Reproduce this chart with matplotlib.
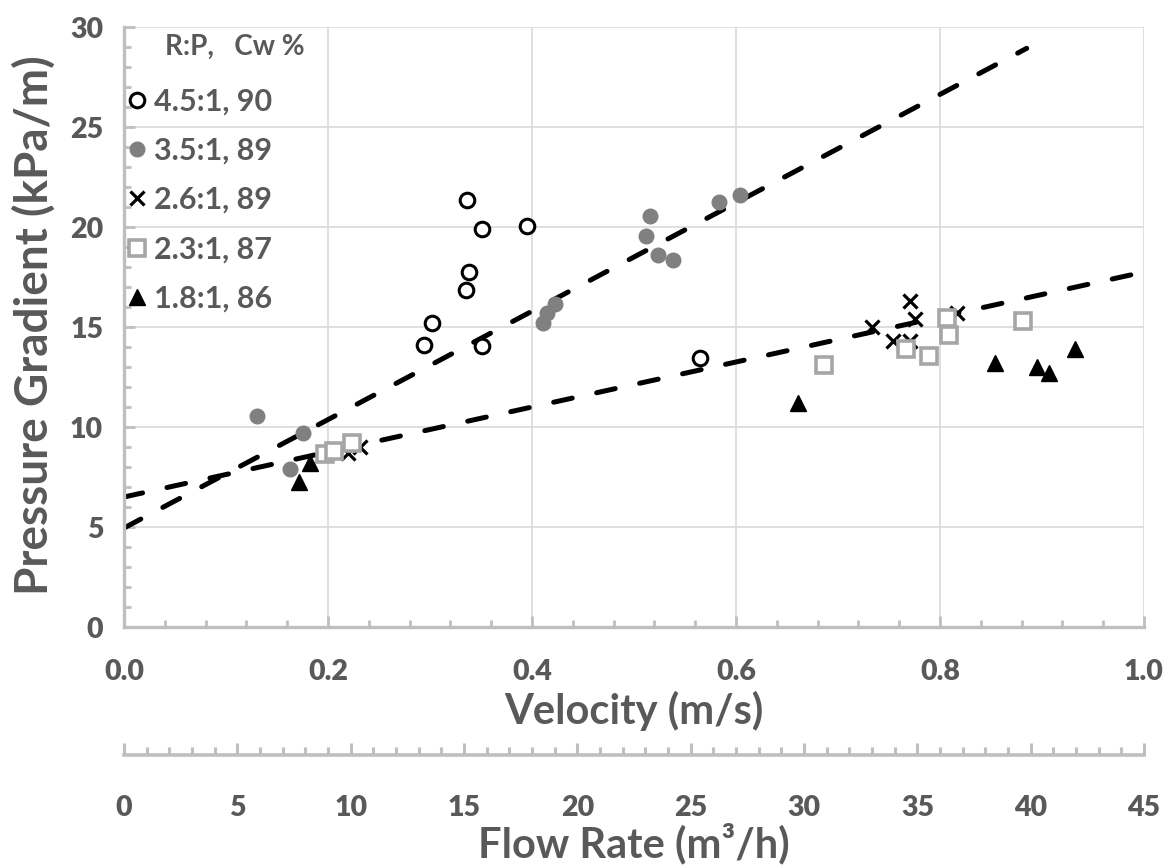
import numpy as np
import matplotlib
matplotlib.use("Agg")
import matplotlib.pyplot as plt
from matplotlib.ticker import MultipleLocator

# Series: velocity (m/s) and pressure gradient (kPa/m)
labels = ["4.5:1, 90", "3.5:1, 89", "2.6:1, 89", "2.3:1, 87", "1.8:1, 86"]

v_45 = [0.336, 0.351, 0.395, 0.338, 0.335, 0.302, 0.294, 0.351, 0.565]
p_45 = [21.35, 19.9, 20.05, 17.75, 16.85, 15.2, 14.1, 14.05, 13.45]

v_35 = [0.130, 0.175, 0.163, 0.411, 0.415, 0.423, 0.512, 0.516, 0.524, 0.538, 0.583, 0.604]
p_35 = [10.55, 9.7, 7.9, 15.2, 15.7, 16.15, 19.55, 20.55, 18.6, 18.35, 21.25, 21.6]

v_26 = [0.220, 0.231, 0.733, 0.754, 0.771, 0.771, 0.775, 0.817]
p_26 = [8.7, 9.0, 15.0, 14.3, 14.3, 16.3, 15.4, 15.7]

v_23 = [0.197, 0.206, 0.224, 0.686, 0.767, 0.789, 0.807, 0.809, 0.881]
p_23 = [8.65, 8.8, 9.2, 13.1, 13.9, 13.55, 15.45, 14.6, 15.3]

v_18 = [0.172, 0.182, 0.661, 0.854, 0.895, 0.907, 0.932]
p_18 = [7.25, 8.2, 11.2, 13.2, 13.0, 12.7, 13.9]

# Linear trend lines: (intercept, slope, v_end)
trend_steep = (4.95, 27.1, 0.885)
trend_flat = (6.5, 11.25, 1.0)

v_max = 1.0
flow_per_velocity = 45.0  # m3/h at 1 m/s

text_grey = "#595959"
axis_grey = "#bfbfbf"
plt.rcParams["font.family"] = ["Lato", "DejaVu Sans"]
plt.rcParams["font.weight"] = "heavy"

fig = plt.figure(figsize=(11.69, 8.65), dpi=100)
ax = fig.add_axes([124 / 1169, 1 - 627 / 865, 1020 / 1169, 600 / 865])

# Trend lines
for b, m, vend in (trend_steep, trend_flat):
    vv = np.array([0.0, vend])
    line, = ax.plot(vv, b + m * vv, color="black", lw=3.6, ls=(0, (3.8, 5.0)),
                    zorder=2)
    line.set_dash_capstyle("round")

# Scatter series
ax.plot(v_45, p_45, ls="none", marker="o", ms=10.5, mfc="white", mec="black",
        mew=2.2, label=labels[0], zorder=3)
ax.plot(v_35, p_35, ls="none", marker="o", ms=10.5, mfc="#808080", mec="#808080",
        label=labels[1], zorder=3)
ax.plot(v_26, p_26, ls="none", marker="x", ms=10, mec="black", mew=2.3,
        label=labels[2], zorder=3)
ax.plot(v_23, p_23, ls="none", marker="s", ms=11, mfc="white", mec="#a6a6a6",
        mew=2.6, label=labels[3], zorder=3)
ax.plot(v_18, p_18, ls="none", marker="^", ms=12, mfc="black", mec="black",
        label=labels[4], zorder=3)

ax.set_xlim(0, v_max)
ax.set_ylim(0, 30)
ax.xaxis.set_major_locator(MultipleLocator(0.2))
ax.xaxis.set_minor_locator(MultipleLocator(0.04))
ax.yaxis.set_major_locator(MultipleLocator(5))
ax.yaxis.set_minor_locator(MultipleLocator(1))
ax.xaxis.set_major_formatter(lambda x, pos: f"{x:.1f}")

ax.grid(True, which="major", color="#d9d9d9", lw=1.2, zorder=0)
ax.set_axisbelow(True)

for s in ("top", "right"):
    ax.spines[s].set_visible(False)
for s in ("left", "bottom"):
    ax.spines[s].set_color(axis_grey)
    ax.spines[s].set_linewidth(2.4)

ax.tick_params(which="both", direction="in", color=axis_grey, width=2,
               labelcolor=text_grey, labelsize=20.5)
ax.tick_params(which="major", length=8)
ax.tick_params(which="minor", length=5)
ax.tick_params(axis="x", pad=23)
ax.tick_params(axis="y", pad=15)

ax.set_xlabel("Velocity (m/s)", fontsize=30, color=text_grey, fontweight="bold")
ax.xaxis.set_label_coords(0.5, -0.14)
ax.xaxis.label.set_va("center")
ax.set_ylabel("Pressure Gradient (kPa/m)", fontsize=33, color=text_grey,
              fontweight="bold")
ax.yaxis.set_label_coords(-0.088, 0.503)
ax.yaxis.label.set_va("center")

# Flow-rate axis below: a flat axes sharing the same horizontal extent
fax = fig.add_axes([124 / 1169, 1 - 755 / 865, 1020 / 1169, 0.0001])
fax.set_xlim(0, v_max * flow_per_velocity)
fax.patch.set_visible(False)
for s in ("top", "right", "left"):
    fax.spines[s].set_visible(False)
fax.spines["bottom"].set_color(axis_grey)
fax.spines["bottom"].set_linewidth(2.6)
fax.set_yticks([])
fax.xaxis.set_major_locator(MultipleLocator(5))
fax.xaxis.set_minor_locator(MultipleLocator(1))
fax.tick_params(which="both", direction="in", color=axis_grey, width=2.2,
                labelcolor=text_grey, labelsize=20.5, pad=29)
fax.tick_params(which="major", length=9)
fax.tick_params(which="minor", length=6)
fax.set_xlabel("Flow Rate (m³/h)", fontsize=30, color=text_grey,
               fontweight="bold")
fax.xaxis.set_label_coords(634 / 1169, 1 - 843 / 865, transform=fig.transFigure)
fax.xaxis.label.set_va("center")

# Legend
ax.text(0.040, 0.967, "R:P,   Cw %", transform=ax.transAxes, fontsize=20,
        color=text_grey, fontweight="bold", va="center", ha="left")
leg = ax.legend(loc="upper left", bbox_to_anchor=(-0.008, 0.92), frameon=False,
                fontsize=22, handlelength=0.6, handletextpad=0.25,
                labelspacing=0.70, borderpad=0.2, borderaxespad=0.2)
for t in leg.get_texts():
    t.set_color(text_grey)
    t.set_fontweight("bold")

fig.savefig("out.png", dpi=100)
